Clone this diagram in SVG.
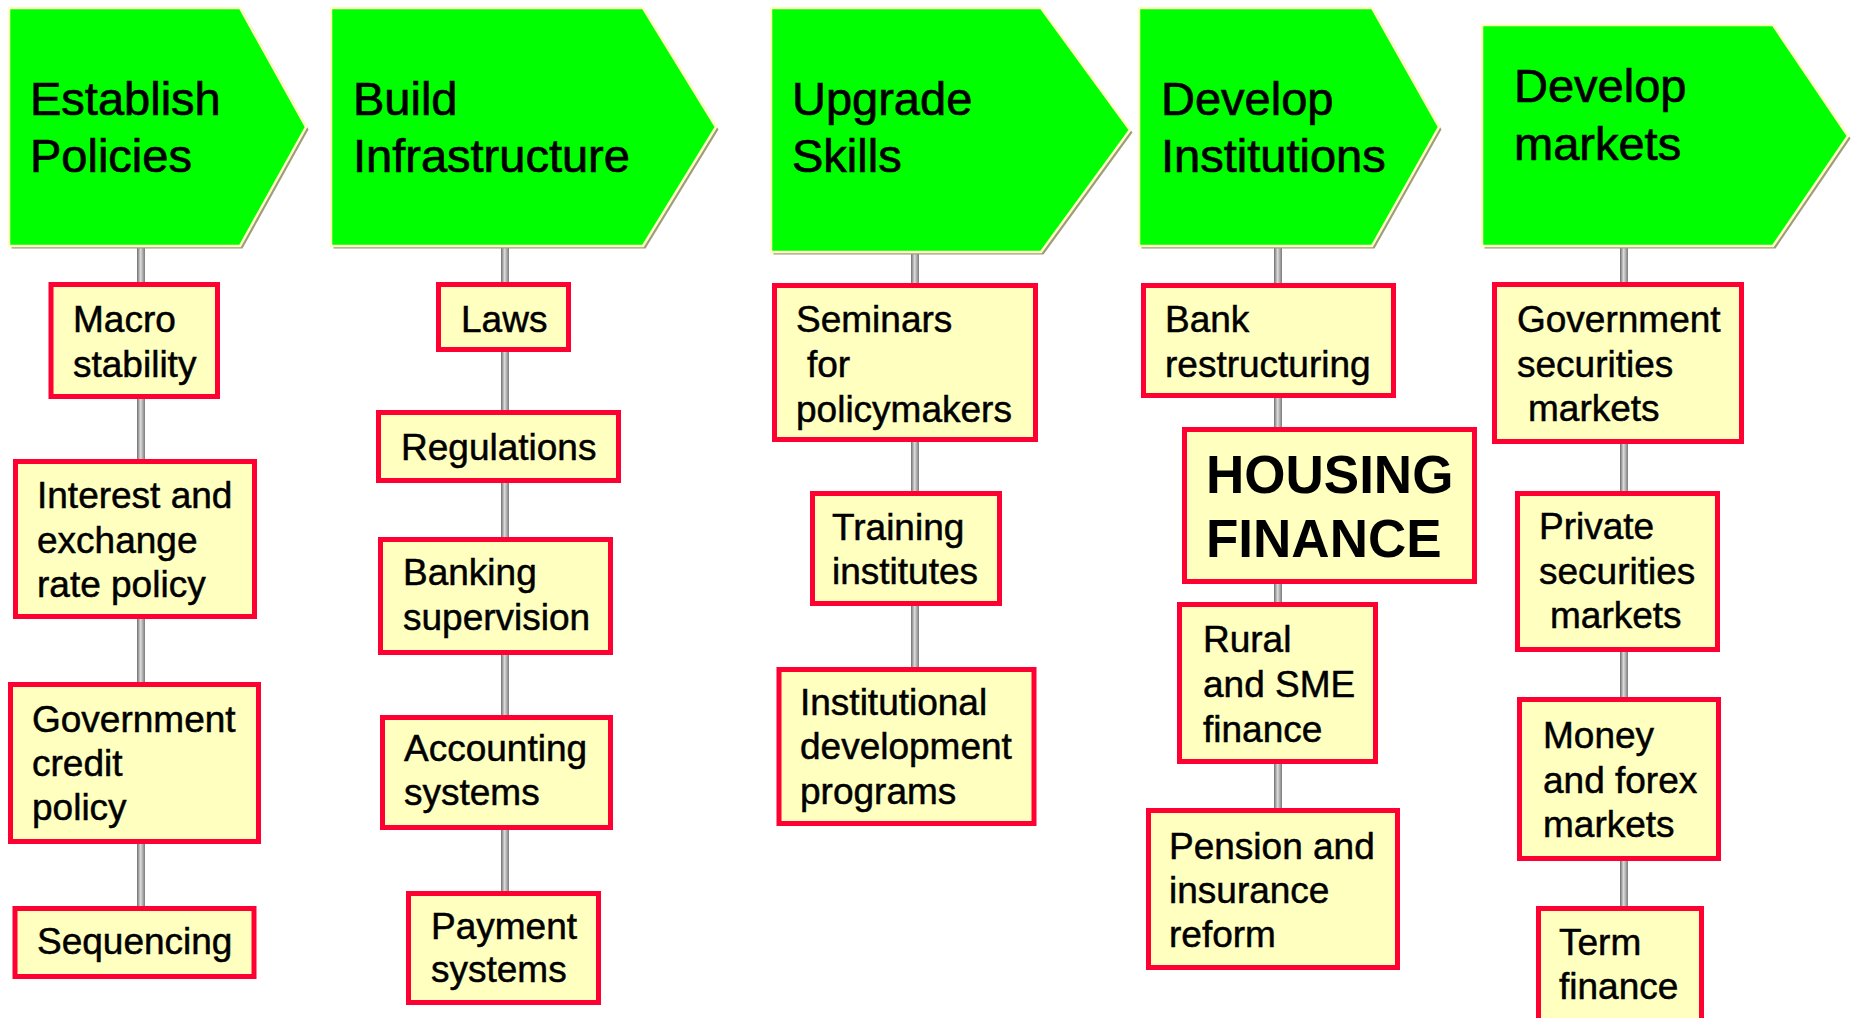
<svg xmlns="http://www.w3.org/2000/svg" width="1854" height="1018" viewBox="0 0 1854 1018">
  <defs>
    <linearGradient id="stemGrad" x1="0" y1="0" x2="1" y2="0">
      <stop offset="0" stop-color="#6e6e6e"/>
      <stop offset="0.45" stop-color="#dcdcdc"/>
      <stop offset="1" stop-color="#7a7a7a"/>
    </linearGradient>
  </defs>
  <style>
    .head-shadow { fill: #9e9c7a; }
    .head { fill: #00ff00; stroke: #ffffc4; stroke-width: 2.5; stroke-linejoin: miter; }
    .head-text { font-family: "Liberation Sans", Arial, sans-serif; font-size: 47px; fill: #000; stroke: #000; stroke-width: 0.7; }
    .box { fill: #ffffbf; stroke: #ff0033; stroke-width: 5; }
    .label { font-family: "Liberation Sans", Arial, sans-serif; font-size: 37px; fill: #000; stroke: #000; stroke-width: 0.5; }
    .big { font-family: "Liberation Sans", Arial, sans-serif; font-size: 53px; font-weight: bold; fill: #000; }
    .stem { fill: url(#stemGrad); }
  </style>
  <rect width="1854" height="1018" fill="#ffffff"/>

  <!-- vertical stems linking each heading to its items -->
  <g id="connectors">
    <rect class="stem" x="137" y="246" width="8" height="662"/>
    <rect class="stem" x="501" y="246" width="8" height="647"/>
    <rect class="stem" x="911" y="252" width="8" height="417"/>
    <rect class="stem" x="1274" y="246" width="8" height="564"/>
    <rect class="stem" x="1620" y="246" width="8" height="662"/>
  </g>

  <!-- headings -->
  <g id="head-policies">
    <polygon class="head-shadow" points="11.5,10.5 242.5,10.5 308.5,129.5 242.5,248.5 11.5,248.5"/>
    <polygon class="head" points="9,8 240,8 306,127 240,246 9,246"/>
    <text class="head-text" x="30" y="115">Establish</text>
    <text class="head-text" x="30" y="172">Policies</text>
  </g>
  <g id="head-infrastructure">
    <polygon class="head-shadow" points="333.5,10.5 645.5,10.5 718.5,129.5 645.5,248.5 333.5,248.5"/>
    <polygon class="head" points="331,8 643,8 716,127 643,246 331,246"/>
    <text class="head-text" x="353" y="115">Build</text>
    <text class="head-text" x="353" y="172">Infrastructure</text>
  </g>
  <g id="head-skills">
    <polygon class="head-shadow" points="773.5,10.5 1043.5,10.5 1132.5,132.5 1043.5,254.5 773.5,254.5"/>
    <polygon class="head" points="771,8 1041,8 1130,130 1041,252 771,252"/>
    <text class="head-text" x="792" y="115">Upgrade</text>
    <text class="head-text" x="792" y="172">Skills</text>
  </g>
  <g id="head-institutions">
    <polygon class="head-shadow" points="1141.5,10.5 1374.5,10.5 1441.5,129.5 1374.5,248.5 1141.5,248.5"/>
    <polygon class="head" points="1139,8 1372,8 1439,127 1372,246 1139,246"/>
    <text class="head-text" x="1161" y="115">Develop</text>
    <text class="head-text" x="1161" y="172">Institutions</text>
  </g>
  <g id="head-markets">
    <polygon class="head-shadow" points="1484.5,27.5 1775.5,27.5 1850.5,138.5 1775.5,248.5 1484.5,248.5"/>
    <polygon class="head" points="1482,25 1773,25 1848,136 1773,246 1482,246"/>
    <text class="head-text" x="1514" y="102">Develop</text>
    <text class="head-text" x="1514" y="160">markets</text>
  </g>

  <!-- column 1 -->
  <g id="macro-stability">
    <rect class="box" x="51" y="284.5" width="166.5" height="112"/>
    <text class="label" x="73" y="332">Macro</text>
    <text class="label" x="73" y="377">stability</text>
  </g>
  <g id="interest-exchange">
    <rect class="box" x="15.5" y="461.5" width="239" height="155"/>
    <text class="label" x="37" y="508">Interest and</text>
    <text class="label" x="37" y="553">exchange</text>
    <text class="label" x="37" y="597">rate policy</text>
  </g>
  <g id="government-credit">
    <rect class="box" x="10.5" y="684.5" width="248" height="157"/>
    <text class="label" x="32" y="732">Government</text>
    <text class="label" x="32" y="776">credit</text>
    <text class="label" x="32" y="820">policy</text>
  </g>
  <g id="sequencing">
    <rect class="box" x="15" y="908.5" width="239" height="68"/>
    <text class="label" x="37" y="954">Sequencing</text>
  </g>

  <!-- column 2 -->
  <g id="laws">
    <rect class="box" x="438.5" y="284.5" width="130" height="65"/>
    <text class="label" x="461" y="332">Laws</text>
  </g>
  <g id="regulations">
    <rect class="box" x="378.5" y="412.5" width="240" height="68"/>
    <text class="label" x="401" y="460">Regulations</text>
  </g>
  <g id="banking-supervision">
    <rect class="box" x="380.5" y="539.5" width="230" height="113"/>
    <text class="label" x="403" y="585">Banking</text>
    <text class="label" x="403" y="630">supervision</text>
  </g>
  <g id="accounting-systems">
    <rect class="box" x="382.5" y="717.5" width="228" height="110"/>
    <text class="label" x="404" y="761">Accounting</text>
    <text class="label" x="404" y="805">systems</text>
  </g>
  <g id="payment-systems">
    <rect class="box" x="408.5" y="893.5" width="190" height="109"/>
    <text class="label" x="431" y="939">Payment</text>
    <text class="label" x="431" y="982">systems</text>
  </g>

  <!-- column 3 -->
  <g id="seminars">
    <rect class="box" x="774.5" y="285.5" width="261" height="154"/>
    <text class="label" x="796" y="332">Seminars</text>
    <text class="label" x="807" y="377">for</text>
    <text class="label" x="796" y="422">policymakers</text>
  </g>
  <g id="training-institutes">
    <rect class="box" x="812.5" y="493.5" width="187" height="110"/>
    <text class="label" x="832" y="540">Training</text>
    <text class="label" x="832" y="584">institutes</text>
  </g>
  <g id="institutional-development">
    <rect class="box" x="779" y="669.5" width="255" height="154"/>
    <text class="label" x="800" y="715">Institutional</text>
    <text class="label" x="800" y="759">development</text>
    <text class="label" x="800" y="804">programs</text>
  </g>

  <!-- column 4 -->
  <g id="bank-restructuring">
    <rect class="box" x="1143.5" y="285.5" width="250" height="110"/>
    <text class="label" x="1165" y="332">Bank</text>
    <text class="label" x="1165" y="377">restructuring</text>
  </g>
  <g id="housing-finance">
    <rect class="box" x="1184.5" y="429.5" width="290" height="152"/>
    <text class="big" x="1206" y="493">HOUSING</text>
    <text class="big" x="1206" y="557">FINANCE</text>
  </g>
  <g id="rural-sme">
    <rect class="box" x="1179.5" y="604.5" width="196" height="157"/>
    <text class="label" x="1203" y="652">Rural</text>
    <text class="label" x="1203" y="697">and SME</text>
    <text class="label" x="1203" y="742">finance</text>
  </g>
  <g id="pension-insurance">
    <rect class="box" x="1148.5" y="810.5" width="249" height="157"/>
    <text class="label" x="1169" y="859">Pension and</text>
    <text class="label" x="1169" y="903">insurance</text>
    <text class="label" x="1169" y="947">reform</text>
  </g>

  <!-- column 5 -->
  <g id="government-securities">
    <rect class="box" x="1494.5" y="284.5" width="247" height="157"/>
    <text class="label" x="1517" y="332">Government</text>
    <text class="label" x="1517" y="377">securities</text>
    <text class="label" x="1528" y="421">markets</text>
  </g>
  <g id="private-securities">
    <rect class="box" x="1517.5" y="493.5" width="200" height="156"/>
    <text class="label" x="1539" y="539">Private</text>
    <text class="label" x="1539" y="584">securities</text>
    <text class="label" x="1550" y="628">markets</text>
  </g>
  <g id="money-forex">
    <rect class="box" x="1519.5" y="699.5" width="199" height="159"/>
    <text class="label" x="1543" y="748">Money</text>
    <text class="label" x="1543" y="793">and forex</text>
    <text class="label" x="1543" y="837">markets</text>
  </g>
  <g id="term-finance">
    <rect class="box" x="1538.5" y="908.5" width="163" height="120"/>
    <text class="label" x="1559" y="955">Term</text>
    <text class="label" x="1559" y="999">finance</text>
  </g>
</svg>
